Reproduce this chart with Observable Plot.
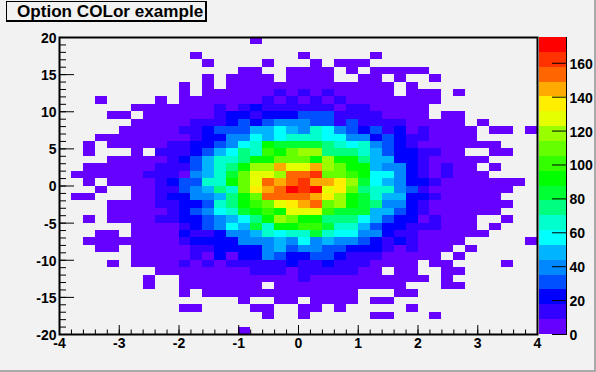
<!DOCTYPE html>
<html><head><meta charset="utf-8">
<script src="https://cdn.jsdelivr.net/npm/d3@7"></script>
<script src="https://cdn.jsdelivr.net/npm/@observablehq/plot@0.6"></script>
<style>
html,body{margin:0;padding:0;background:#f2f2f2}
#page{position:relative;width:596px;height:372px;overflow:hidden;background:#f2f2f2}
#page svg{position:absolute;left:0;top:0;max-width:none !important;width:596px;height:372px}
#edgeR{position:absolute;left:594px;top:0;width:2px;height:372px;background:#aaa}
#edgeB{position:absolute;left:0;top:370px;width:596px;height:2px;background:#aaa}
#title{position:absolute;left:6px;top:1px;width:188px;height:18px;padding-left:10px;border:1px solid #000;border-right-width:2px;border-bottom-width:2px;background:#f2f2f2;font:bold 17.1px "Liberation Sans",Arial,sans-serif;line-height:19px;white-space:nowrap;color:#000}
</style></head><body>
<div id="page"><div id="edgeR"></div><div id="edgeB"></div><div id="title">Option COLor example</div></div>
<script>
const xTicks = [-4,-3,-2,-1,0,1,2,3,4];
const yTicks = [-20,-15,-10,-5,0,5,10,15,20];
const zTicks = [0,20,40,60,80,100,120,140,160];
const zMax = 175.2;
const palette = ["#6600ff","#3300ff","#0000ff","#0050ff","#0088ff","#00b4ff","#00ffff","#00ffcc","#00ff80","#00ff33","#00ff00","#33ff00","#66ff00","#99ff00","#e6ff00","#ffee00","#ffaa00","#ff6600","#ff3300","#ff0000"];
// counts per bin; first row is the top row (y 19..20), columns run x -4..4
const counts = [
[0,0,0,0,0,0,0,0,0,0, 0,0,0,0,0,0,4,0,0,0, 0,0,0,0,0,0,0,0,0,0, 0,0,0,0,0,0,0,0,0,0],
[0,0,0,0,0,0,0,0,0,0, 0,0,0,0,0,0,0,0,0,0, 0,0,0,0,0,0,0,0,0,0, 0,0,0,0,0,0,0,0,0,0],
[0,0,0,0,0,0,0,0,0,0, 0,4,0,0,0,0,0,0,0,0, 4,0,0,0,0,0,4,0,0,0, 0,0,0,0,0,0,0,0,0,0],
[0,0,0,0,0,0,0,0,0,0, 0,0,4,0,0,0,0,4,0,0, 0,4,0,4,4,4,0,0,0,0, 0,0,0,0,0,0,0,0,0,0],
[0,0,0,0,0,0,0,0,0,0, 0,0,0,0,0,4,4,0,0,4, 4,4,4,0,4,0,4,4,4,4, 4,0,0,0,0,0,0,0,0,0],
[0,0,0,0,0,0,0,0,0,0, 0,0,4,0,4,4,4,4,0,4, 4,4,4,0,0,4,4,0,4,0, 0,4,0,0,0,0,0,0,0,0],
[0,0,0,0,0,0,0,0,0,0, 4,0,4,0,4,4,4,4,4,4, 4,4,4,4,4,4,4,4,0,4, 0,0,0,0,0,0,0,0,0,0],
[0,0,0,0,0,0,0,0,0,0, 4,0,4,4,4,4,4,4,13,4, 13,4,13,4,4,4,4,4,0,4, 4,4,0,4,0,0,0,0,0,0],
[0,0,0,4,0,0,0,0,4,0, 4,4,4,4,4,4,4,13,4,13, 4,13,4,13,4,4,4,4,4,4, 4,4,0,0,0,0,0,0,0,0],
[0,0,0,0,0,0,4,4,4,4, 4,4,4,13,4,13,22,13,13,13, 13,13,13,4,13,13,4,4,4,4, 4,0,0,0,0,0,0,0,0,0],
[0,0,0,0,4,4,0,4,4,4, 4,4,4,13,22,22,13,22,22,22, 31,31,31,13,13,13,13,4,4,4, 4,0,4,4,0,0,0,0,0,0],
[0,0,0,0,0,0,4,4,4,4, 4,13,13,13,22,31,22,31,39,39, 39,31,31,13,31,13,13,13,13,4, 4,4,4,4,0,4,0,0,0,0],
[0,0,0,0,0,4,4,4,4,4, 13,13,22,31,31,31,48,48,57,48, 39,66,57,39,31,22,31,13,22,4, 13,4,4,4,4,0,4,4,0,4],
[0,0,0,4,4,4,4,4,4,4, 4,13,22,22,39,39,57,48,57,66, 66,66,57,57,39,39,22,31,22,13, 13,4,4,4,4,0,0,0,0,0],
[0,0,4,0,4,4,4,4,4,13, 13,22,22,31,39,57,66,92,83,83, 83,83,74,66,57,66,39,31,22,13, 4,4,4,4,4,4,4,0,0,0],
[0,0,4,0,0,0,4,0,13,13, 13,22,31,48,57,74,66,101,92,110, 118,118,74,74,74,66,48,31,22,22, 13,13,4,4,0,0,4,4,0,0],
[0,0,0,0,4,4,4,4,4,13, 22,31,48,66,66,74,92,92,110,110, 110,92,118,92,92,74,48,48,22,22, 13,4,4,4,4,4,0,0,0,0],
[0,0,4,4,4,4,4,4,13,13, 13,31,48,66,74,92,118,118,145,127, 127,145,118,110,92,92,48,39,39,22, 13,4,13,4,4,0,4,0,0,0],
[0,4,4,4,4,4,4,13,13,13, 4,39,48,66,83,110,127,127,118,153, 153,162,110,110,101,92,57,57,39,22, 13,4,13,4,4,4,0,0,0,0],
[0,0,4,0,4,4,4,4,13,22, 31,31,66,66,92,110,127,153,145,153, 162,145,145,136,118,83,57,48,39,22, 22,13,4,4,4,4,4,4,4,0],
[0,0,0,4,0,0,4,4,13,13, 31,39,48,74,66,110,136,145,153,171, 162,171,127,136,110,74,66,66,39,31, 13,4,4,4,4,4,4,4,0,0],
[0,4,4,0,0,0,4,4,13,22, 22,39,39,48,74,92,110,153,153,153, 153,145,136,118,92,83,66,48,48,22, 22,13,4,4,4,4,4,0,0,0],
[0,0,0,0,4,4,4,4,13,13, 22,22,31,66,74,92,101,110,127,136, 145,153,110,118,92,83,74,39,39,22, 13,4,4,4,4,4,4,4,0,0],
[0,0,0,0,4,4,4,4,4,13, 22,31,39,57,66,83,92,101,92,127, 127,127,101,83,83,83,48,48,31,22, 13,4,4,4,4,4,4,0,0,0],
[0,0,4,0,4,4,4,4,13,13, 22,22,31,39,48,57,74,92,118,110, 92,92,74,74,74,57,48,31,22,22, 4,13,4,4,4,0,0,4,0,0],
[0,0,0,0,0,0,4,4,4,4, 13,22,31,39,57,48,83,66,92,92, 101,101,83,66,66,48,31,22,22,13, 13,13,4,4,4,0,4,0,0,0],
[0,0,0,4,4,0,4,4,4,4, 22,13,13,22,39,39,48,66,57,66, 66,83,66,57,57,39,39,22,13,13, 4,4,4,4,4,4,0,0,0,0],
[0,0,4,4,4,4,4,4,4,4, 13,22,22,22,22,39,39,39,48,39, 57,39,48,39,39,31,22,13,22,13, 4,4,4,4,0,0,0,0,0,4],
[0,0,0,4,4,0,4,4,4,4, 4,13,13,22,22,22,22,39,48,31, 39,39,31,31,22,22,22,13,4,13, 4,4,4,0,4,0,0,0,0,0],
[0,0,0,0,0,0,4,4,4,4, 4,13,4,22,4,22,22,39,31,22, 22,31,31,22,13,13,13,4,4,4, 4,4,0,4,0,0,0,0,0,0],
[0,0,0,0,4,0,4,4,4,4, 13,4,13,4,13,13,13,13,13,22, 13,13,22,13,13,13,4,4,4,4, 0,4,4,0,0,0,0,4,0,0],
[0,0,0,0,0,0,0,0,4,4, 4,4,4,4,4,4,13,13,13,4, 13,13,13,13,13,4,4,0,4,4, 0,0,4,4,0,0,0,0,0,0],
[0,0,0,0,0,0,0,4,0,0, 4,4,4,4,4,4,4,4,4,4, 13,4,4,4,4,4,4,4,4,4, 4,0,4,0,0,0,0,0,0,0],
[0,0,0,0,0,0,0,4,0,0, 4,4,4,4,4,4,4,0,4,4, 4,4,4,4,4,4,4,4,4,0, 0,0,4,4,0,0,0,0,0,0],
[0,0,0,0,0,0,0,0,0,0, 4,0,4,4,4,4,4,4,4,4, 4,4,4,4,4,0,0,0,4,4, 0,0,0,0,0,0,0,0,0,0],
[0,0,0,0,0,0,0,0,0,0, 0,0,0,0,0,4,0,0,4,4, 0,4,4,4,4,0,4,4,0,0, 0,0,0,0,0,0,0,0,0,0],
[0,0,0,0,0,0,0,0,0,0, 4,4,0,0,0,0,4,4,0,0, 4,4,0,4,0,0,0,0,0,4, 0,0,0,0,0,0,0,0,0,0],
[0,0,0,0,0,0,0,0,0,0, 0,0,0,0,0,0,0,4,0,0, 4,0,0,0,0,0,4,4,0,0, 0,4,0,0,0,0,0,0,0,0],
[0,0,0,0,0,0,0,0,0,0, 0,0,0,0,0,0,0,0,0,0, 0,0,0,0,0,0,0,0,0,0, 0,0,0,0,0,0,0,0,0,0],
[0,0,0,0,0,0,0,0,0,0, 0,0,0,0,0,4,0,0,0,0, 0,0,0,0,0,0,0,0,0,0, 0,0,0,0,0,0,0,0,0,0]
];
const binW = 8 / 40, binH = 40 / 40;
const thresholds = d3.range(1, palette.length).map(i => i * zMax / palette.length);
const colorScale = {type: "threshold", domain: thresholds, range: palette};
const cells = counts.flatMap((row, j) => row.map((v, i) => ({
  x1: -4 + i * binW, x2: -4 + (i + 1) * binW,
  y2: 20 - j * binH, y1: 20 - (j + 1) * binH, v
}))).filter(d => d.v > 0);
const bands = palette.map((c, i) => ({z1: i * zMax / palette.length, z2: (i + 1) * zMax / palette.length, v: (i + 0.5) * zMax / palette.length}));
const font = {background: "transparent", color: "#000", fontFamily: '"Liberation Sans",Arial,sans-serif', fontWeight: "bold", fontSize: "14px", overflow: "visible"};
const fmt = d => String(d);

const main = Plot.plot({
  width: 596, height: 372, marginLeft: 59, marginRight: 59, marginTop: 37, marginBottom: 38,
  style: font,
  x: {domain: [-4, 4], axis: null, label: null},
  y: {domain: [-20, 20], axis: null, label: null},
  color: colorScale,
  marks: [
    Plot.rect(cells, {x1: "x1", x2: "x2", y1: "y1", y2: "y2", fill: "v", shapeRendering: "crispEdges"}),
    Plot.axisX(d3.range(-4, 4.01, 0.2), {anchor: "bottom", tickSize: -4.5, text: null, label: null}),
    Plot.axisY(d3.range(-20, 21, 1), {anchor: "left", tickSize: -7, text: null, label: null}),
    Plot.axisX(xTicks, {anchor: "bottom", tickSize: -9, text: null, label: null}),
    Plot.axisY(yTicks, {anchor: "left", tickSize: -15, text: null, label: null}),
    Plot.axisX(xTicks, {anchor: "bottom", tickSize: 0, tickPadding: 4, tickFormat: fmt, label: null, fontSize: 14}),
    Plot.axisY(yTicks, {anchor: "left", tickSize: 0, tickPadding: 3, dy: 1, tickFormat: fmt, label: null, fontSize: 14}),
    Plot.frame({stroke: "#000", strokeWidth: 2})
  ]
});
const bar = Plot.plot({
  width: 596, height: 372, marginLeft: 539, marginRight: 30, marginTop: 37, marginBottom: 38,
  style: font,
  x: {domain: [0, 1], axis: null, label: null},
  y: {domain: [0, zMax], axis: null, label: null},
  color: colorScale,
  marks: [
    Plot.rect(bands, {x1: 0, x2: 1, y1: "z1", y2: "z2", fill: "v", shapeRendering: "crispEdges"}),
    Plot.axisY(zTicks, {anchor: "right", tickSize: -15, text: null, label: null}),
    Plot.axisY(zTicks, {anchor: "right", tickSize: 0, tickPadding: 3, dy: 1, tickFormat: fmt, label: null, fontSize: 14}),
    Plot.ruleX([1], {stroke: "#000", strokeWidth: 1})
  ]
});
const page = document.getElementById("page");
page.insertBefore(bar, page.firstChild);
page.insertBefore(main, page.firstChild);
</script>
</body></html>
